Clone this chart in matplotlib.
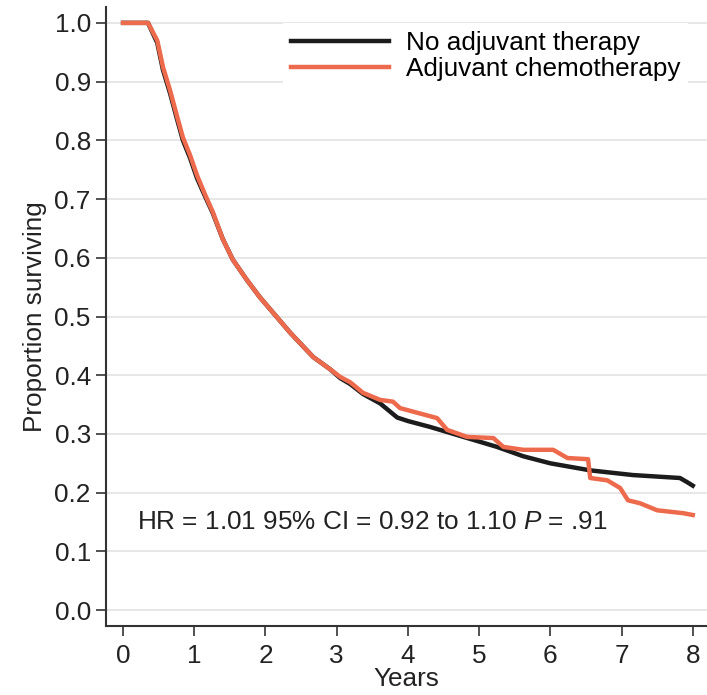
import numpy as np
import matplotlib
matplotlib.use("Agg")
import matplotlib.pyplot as plt

plt.rcParams['font.family'] = ['Liberation Sans', 'DejaVu Sans']
plt.rcParams['mathtext.fontset'] = 'custom'
plt.rcParams['mathtext.rm'] = 'Liberation Sans'
plt.rcParams['mathtext.it'] = 'Liberation Sans:italic'

# Kaplan-Meier estimates, years vs proportion surviving
t_none = [0, 0.35, 0.48, 0.56, 0.66, 0.76, 0.84, 0.94, 1.04, 1.15, 1.26, 1.40,
          1.54, 1.74, 1.92, 2.11, 2.35, 2.67, 2.91, 3.05, 3.19, 3.37, 3.61,
          3.85, 4.0, 4.31, 4.78, 5.25, 5.62, 6.0, 6.56, 7.16, 7.82, 7.92, 8.0]
s_none = [1.0, 1.0, 0.966, 0.92, 0.88, 0.835, 0.80, 0.77, 0.735, 0.705, 0.676,
          0.632, 0.597, 0.562, 0.533, 0.506, 0.472, 0.431, 0.41, 0.395, 0.385,
          0.368, 0.352, 0.328, 0.322, 0.312, 0.295, 0.278, 0.262, 0.25, 0.238,
          0.230, 0.225, 0.218, 0.212]

t_chemo = [0, 0.35, 0.48, 0.56, 0.66, 0.76, 0.84, 0.94, 1.04, 1.15, 1.26, 1.40,
           1.54, 1.74, 1.92, 2.11, 2.35, 2.67, 2.91, 3.05, 3.19, 3.37, 3.61,
           3.79, 3.89, 4.41, 4.55, 4.83, 5.20, 5.34, 5.62, 6.04, 6.24, 6.53,
           6.56, 6.80, 6.98, 7.09, 7.26, 7.50, 7.87, 8.0]
s_chemo = [1.0, 1.0, 0.97, 0.925, 0.885, 0.84, 0.805, 0.775, 0.74, 0.708, 0.678,
           0.632, 0.597, 0.562, 0.533, 0.506, 0.472, 0.431, 0.41, 0.397, 0.388,
           0.37, 0.358, 0.355, 0.344, 0.327, 0.307, 0.295, 0.293, 0.278, 0.273,
           0.273, 0.259, 0.257, 0.225, 0.221, 0.208, 0.187, 0.182, 0.170, 0.165,
           0.162]

labels = ['No adjuvant therapy', 'Adjuvant chemotherapy']
colors = ['#1c1c1c', '#ee6a4c']
note = r'HR = 1.01 95% CI = 0.92 to 1.10 $\it{P}$ = .91'
fs = 18.8

fig = plt.figure(figsize=(7.07, 6.95), dpi=100)
ax = fig.add_axes([0.150, 0.0993, 0.850, 0.8906])

ax.plot(t_none, s_none, color=colors[0], lw=3.2, label=labels[0], zorder=3)
ax.plot(t_chemo, s_chemo, color=colors[1], lw=3.2, label=labels[1], zorder=4)

ax.set_xlim(-0.239, 8.20)
ax.set_ylim(-0.027, 1.027)
ax.set_xticks(range(0, 9))
ax.set_yticks(np.arange(0, 1.01, 0.1))
ax.set_yticklabels([f'{v:.1f}' for v in np.arange(0, 1.01, 0.1)])
ax.grid(axis='y', color='#e3e3e3', lw=1.2, zorder=0)

for side in ['top', 'right']:
    ax.spines[side].set_visible(False)
for side in ['left', 'bottom']:
    ax.spines[side].set_color('#333333')
    ax.spines[side].set_linewidth(1.5)

ax.tick_params(axis='both', labelsize=fs, colors='#333333', labelcolor='#222222',
               length=7, width=1.2)
ax.tick_params(axis='y', pad=4)
ax.tick_params(axis='x', pad=6)

ax.set_xlabel('Years', fontsize=fs, color='#222222', labelpad=-1)
ax.set_ylabel('Proportion surviving', fontsize=fs, color='#222222', labelpad=5)

ax.text(0.197, 0.15, note, fontsize=fs, color='#222222', va='center', ha='left')

leg = ax.legend(loc='upper right', bbox_to_anchor=(0.99, 0.995), fontsize=fs,
                frameon=True, facecolor='white', edgecolor='none', framealpha=1,
                handlelength=3.75, handletextpad=0.65, labelspacing=0.08,
                borderpad=0.3, fancybox=False)
leg.get_frame().set_linewidth(0)

fig.savefig('out.png', dpi=100)
